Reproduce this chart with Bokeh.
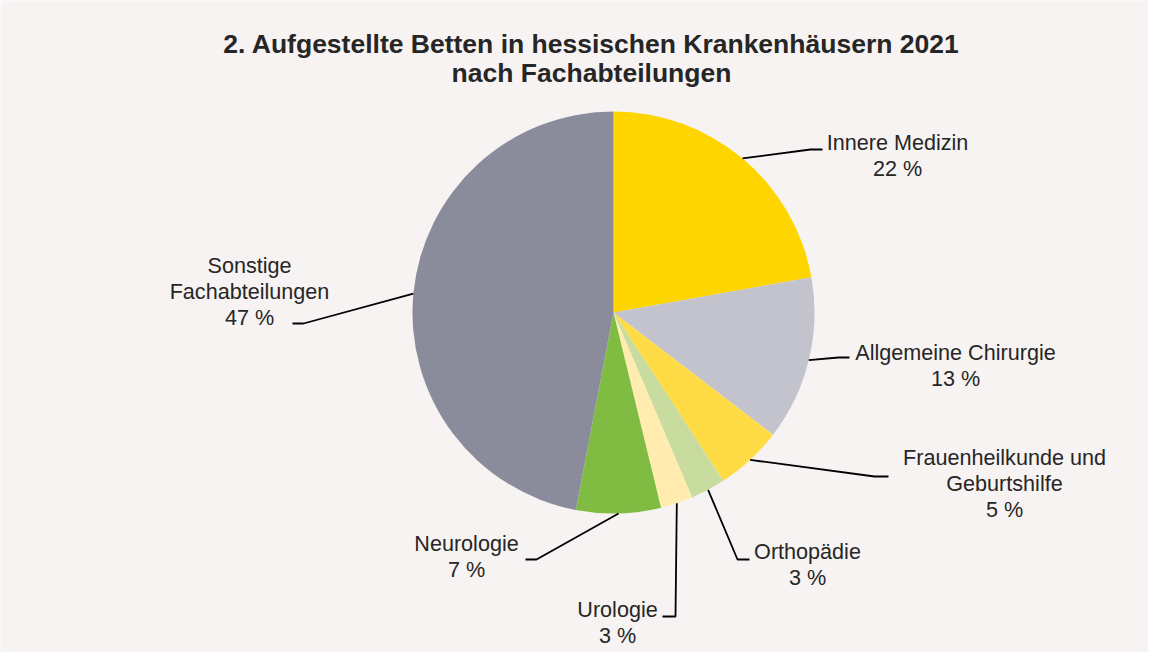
import math
from bokeh.plotting import figure
from bokeh.models import Range1d, ColumnDataSource
from bokeh.core.properties import value
from bokeh.embed import file_html
from bokeh.resources import INLINE

# ---- data ----
title_lines = ["2. Aufgestellte Betten in hessischen Krankenhäusern 2021",
               "nach Fachabteilungen"]
categories = ["Innere Medizin", "Allgemeine Chirurgie", "Frauenheilkunde und\nGeburtshilfe",
              "Orthopädie", "Urologie", "Neurologie", "Sonstige\nFachabteilungen"]
shares = [22.2, 13.2, 5.4, 2.8, 2.6, 6.8, 47.0]
colors = ["#FFD500", "#C3C3CD", "#FFDC45", "#C9DC9F", "#FFECAE", "#80BC42", "#8A8C9C"]

# ---- layout (reference pixel coords -> data coords) ----
W, H = 1148, 652
def P(X, Y):
    return (X, H - Y)

CX, CY = P(613, 312)
R = 201
FONT = value("Liberation Sans")
BG = "#F7F3F2"
TXT = "#262626"

# label block centre x, first-line y, elbow point, end point (reference px)
label_pos = [
    (897, 142, (810, 149), (822, 149)),
    (955, 352, (838, 357), (849, 357)),
    (1004, 457, (874, 476), (888, 476)),
    (807, 551, (737, 559), (749, 559)),
    (617, 609, (675, 616), (662, 616)),
    (466, 543, (536, 559), (525, 559)),
    (249, 265, (303, 323), (292, 323)),
]
LINE_H = 26

p = figure(width=W, height=H, x_range=Range1d(0, W), y_range=Range1d(0, H),
           output_backend="svg", toolbar_location=None, min_border=0)
p.axis.visible = False
p.grid.visible = False
p.outline_line_color = None
p.background_fill_color = BG
p.border_fill_color = BG

total = sum(shares)
starts, ends, mids = [], [], []
cum = 0.0
for s in shares:
    a0 = math.pi / 2 - 2 * math.pi * cum / total
    cum += s
    a1 = math.pi / 2 - 2 * math.pi * cum / total
    starts.append(a0); ends.append(a1); mids.append((a0 + a1) / 2)

src = ColumnDataSource(dict(start=starts, end=ends, color=colors))
p.wedge(x=CX, y=CY, radius=R, start_angle="start", end_angle="end",
        direction="clock", fill_color="color", line_color=None, source=src)

# leader lines
xs, ys = [], []
for m, (lx, ly, elbow, end) in zip(mids, label_pos):
    sx = CX + R * math.cos(m)
    sy = CY + R * math.sin(m)
    ex, ey = P(*elbow)
    fx, fy = P(*end)
    xs.append([sx, ex, fx]); ys.append([sy, ey, fy])
p.multi_line(xs=xs, ys=ys, line_color="#000000", line_width=1.8)

# labels
tx, ty, tt = [], [], []
for cat, s, (lx, ly, _, _) in zip(categories, shares, label_pos):
    lines = cat.split("\n") + [f"{round(s)} %"]
    for i, ln in enumerate(lines):
        x, y = P(lx, ly + i * LINE_H)
        tx.append(x); ty.append(y); tt.append(ln)
p.text(x=tx, y=ty, text=tt, text_align="center", text_baseline="middle",
       text_font=FONT, text_font_size="21.6px", text_color=TXT)

# title
for i, t in enumerate(title_lines):
    x, y = P(591, 43 + i * 29)
    p.text(x=[x], y=[y], text=[t], text_align="center", text_baseline="middle",
           text_font=FONT, text_font_size="26.5px", text_font_style="bold", text_color=TXT)

open("out.html", "w").write(file_html(p, INLINE))
